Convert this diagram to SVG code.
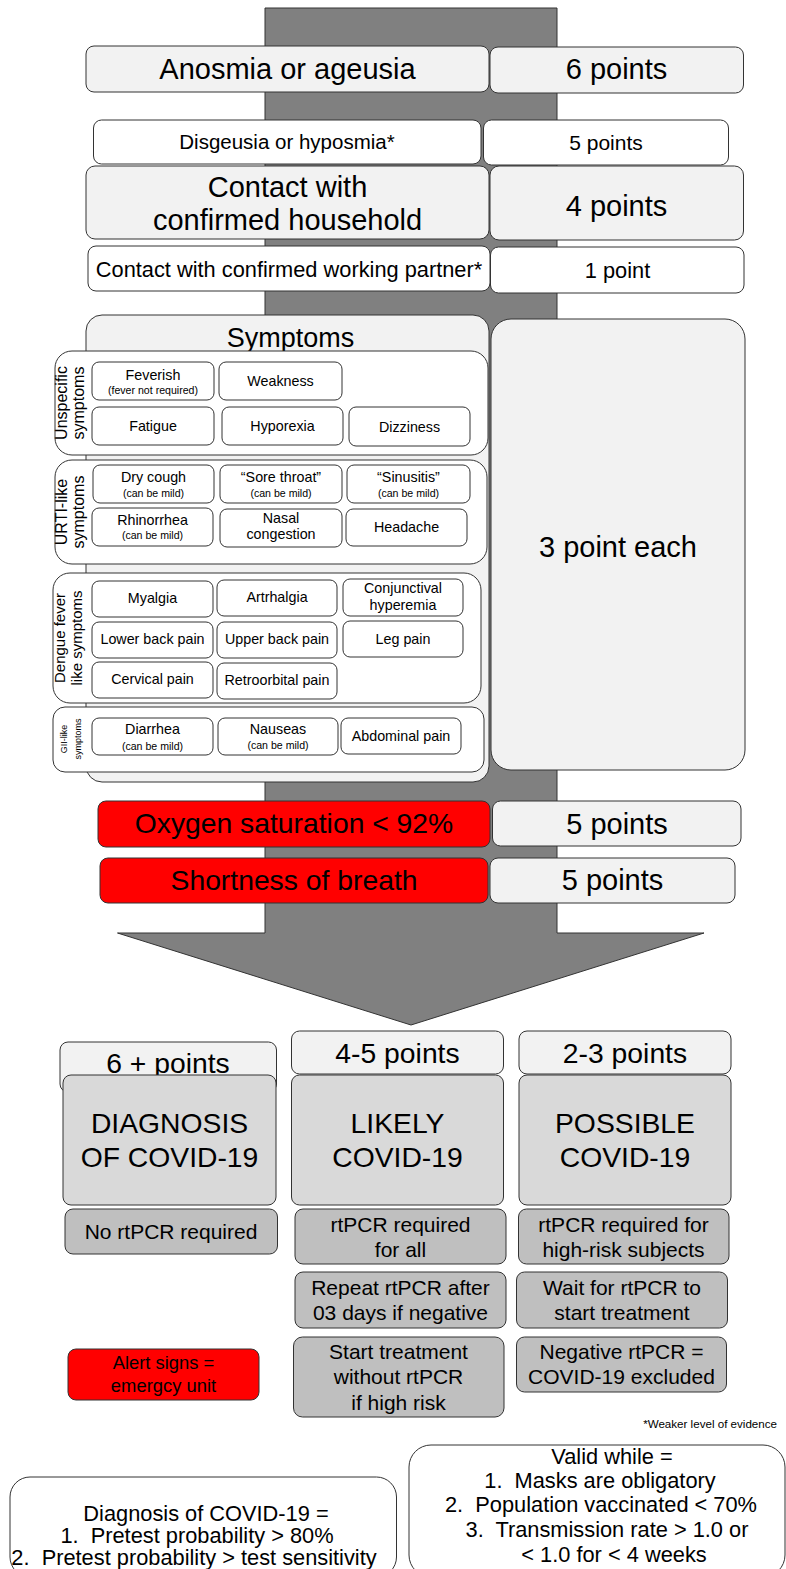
<svg xmlns="http://www.w3.org/2000/svg" width="786" height="1569" viewBox="0 0 786 1569">
<style>
rect{stroke:#333;stroke-width:1}
.lg{fill:#f2f2f2}
.w{fill:#fff}
.red{fill:#ff0000}
.cat{fill:#d9d9d9}
.act{fill:#bfbfbf}
text{font-family:"Liberation Sans",Arial,Helvetica,sans-serif;fill:#000;text-anchor:middle}
.f29{font-size:29px}
.f28{font-size:28.3px}
.f27{font-size:27px}
.f22{font-size:21.8px}
.f21{font-size:21px}
.f20{font-size:20.5px}
.f18{font-size:18.4px}
.f16{font-size:16px}
.f15{font-size:15px}
.f14{font-size:14.3px}
.f10{font-size:10.6px}
.f9{font-size:9px}
.note{font-size:11.6px;text-anchor:end}
</style>
<g id="connectors">
<polygon points="265,8 557,8 557,933 704,933 411,1025 117.5,933 265,933" fill="#808080" stroke="#333" stroke-width="1"/>
</g>
<g id="anosmia"><rect class="lg" x="86" y="46" width="403" height="46" rx="8"/><text class="f29" x="287.5" y="79">Anosmia or ageusia</text></g>
<g id="anosmia-points"><rect class="lg" x="490" y="47" width="253.5" height="46" rx="8"/><text class="f29" x="616.5" y="79">6 points</text></g>
<g id="disgeusia"><rect class="w" x="93.5" y="120" width="387.5" height="44" rx="8"/><text class="f20" x="287" y="148.5">Disgeusia or hyposmia*</text></g>
<g id="disgeusia-points"><rect class="w" x="483.5" y="120" width="245" height="45" rx="8"/><text class="f21" x="606" y="150">5 points</text></g>
<g id="household"><rect class="lg" x="86" y="166" width="403" height="73" rx="9"/><text class="f29" x="287.5" y="197">Contact with</text><text class="f29" x="287.5" y="230">confirmed household</text></g>
<g id="household-points"><rect class="lg" x="490" y="166" width="253.5" height="74" rx="9"/><text class="f29" x="616.5" y="216">4 points</text></g>
<g id="partner"><rect class="w" x="88" y="246" width="402" height="45" rx="8"/><text class="f22" x="289" y="277">Contact with confirmed working partner*</text></g>
<g id="partner-points"><rect class="w" x="490.5" y="247" width="253.5" height="46" rx="8"/><text class="f22" x="617.5" y="278">1 point</text></g>

<g id="symptoms"><rect class="lg" x="86" y="315" width="403" height="467" rx="16"/><text class="f27" x="290.5" y="347">Symptoms</text></g>
<g id="symptoms-points"><rect class="lg" x="491" y="319" width="254" height="451" rx="20"/><text class="f29" x="618" y="557">3 point each</text></g>

<g id="unspecific">
<rect class="w" x="55" y="351" width="433" height="104" rx="17"/>
<text class="f16" transform="translate(67,403) rotate(-90)">Unspecific</text>
<text class="f16" transform="translate(84,403) rotate(-90)">symptoms</text>
</g>
<g id="feverish"><rect class="w" x="92" y="362" width="122" height="38" rx="7"/><text class="f14" x="153" y="380">Feverish</text><text class="f10" x="153" y="394">(fever not required)</text></g>
<g id="weakness"><rect class="w" x="219" y="362" width="123" height="38" rx="7"/><text class="f14" x="280.5" y="386">Weakness</text></g>
<g id="fatigue"><rect class="w" x="92" y="407" width="122" height="38" rx="7"/><text class="f14" x="153" y="431">Fatigue</text></g>
<g id="hyporexia"><rect class="w" x="222" y="407" width="121" height="38" rx="7"/><text class="f14" x="282.5" y="431">Hyporexia</text></g>
<g id="dizziness"><rect class="w" x="349" y="407" width="121" height="39" rx="7"/><text class="f14" x="409.5" y="432">Dizziness</text></g>

<g id="urti">
<rect class="w" x="55" y="460" width="432" height="104" rx="17"/>
<text class="f16" transform="translate(67,512) rotate(-90)">URTI-like</text>
<text class="f16" transform="translate(84,512) rotate(-90)">symptoms</text>
</g>
<g id="drycough"><rect class="w" x="93" y="465" width="121" height="38" rx="7"/><text class="f14" x="153.5" y="482">Dry cough</text><text class="f10" x="153.5" y="497">(can be mild)</text></g>
<g id="sorethroat"><rect class="w" x="220" y="465" width="122" height="38" rx="7"/><text class="f14" x="281" y="482">“Sore throat”</text><text class="f10" x="281" y="497">(can be mild)</text></g>
<g id="sinusitis"><rect class="w" x="347" y="465" width="123" height="38" rx="7"/><text class="f14" x="408.5" y="482">“Sinusitis”</text><text class="f10" x="408.5" y="497">(can be mild)</text></g>
<g id="rhinorrhea"><rect class="w" x="92" y="508" width="121" height="38" rx="7"/><text class="f14" x="152.5" y="525">Rhinorrhea</text><text class="f10" x="152.5" y="539">(can be mild)</text></g>
<g id="nasal"><rect class="w" x="220" y="509" width="122" height="38" rx="7"/><text class="f14" x="281" y="523">Nasal</text><text class="f14" x="281" y="539">congestion</text></g>
<g id="headache"><rect class="w" x="346" y="509" width="121" height="37" rx="7"/><text class="f14" x="406.5" y="532">Headache</text></g>

<g id="dengue">
<rect class="w" x="53" y="573" width="428" height="130" rx="17"/>
<text class="f15" transform="translate(64.5,638) rotate(-90)">Dengue fever</text>
<text class="f15" transform="translate(82,638) rotate(-90)">like symptoms</text>
</g>
<g id="myalgia"><rect class="w" x="92" y="581" width="121" height="36" rx="7"/><text class="f14" x="152.5" y="603">Myalgia</text></g>
<g id="artrhalgia"><rect class="w" x="217" y="580" width="120" height="36" rx="7"/><text class="f14" x="277" y="602">Artrhalgia</text></g>
<g id="conjunctival"><rect class="w" x="343" y="579" width="120" height="37" rx="7"/><text class="f14" x="403" y="593">Conjunctival</text><text class="f14" x="403" y="610">hyperemia</text></g>
<g id="lowerback"><rect class="w" x="92" y="622" width="121" height="36" rx="7"/><text class="f14" x="152.5" y="644">Lower back pain</text></g>
<g id="upperback"><rect class="w" x="217" y="622" width="120" height="36" rx="7"/><text class="f14" x="277" y="644">Upper back pain</text></g>
<g id="legpain"><rect class="w" x="343" y="621" width="120" height="36" rx="7"/><text class="f14" x="403" y="644">Leg pain</text></g>
<g id="cervical"><rect class="w" x="92" y="662" width="121" height="36" rx="7"/><text class="f14" x="152.5" y="684">Cervical pain</text></g>
<g id="retroorbital"><rect class="w" x="217" y="663" width="120" height="36" rx="7"/><text class="f14" x="277" y="685">Retroorbital pain</text></g>

<g id="gi">
<rect class="w" x="53" y="707" width="431" height="65" rx="12"/>
<text class="f9" transform="translate(67,739) rotate(-90)">GII-like</text>
<text class="f9" transform="translate(80.5,739) rotate(-90)">symptoms</text>
</g>
<g id="diarrhea"><rect class="w" x="92" y="718" width="121" height="37" rx="7"/><text class="f14" x="152.5" y="734">Diarrhea</text><text class="f10" x="152.5" y="750">(can be mild)</text></g>
<g id="nauseas"><rect class="w" x="218" y="718" width="120" height="37" rx="7"/><text class="f14" x="278" y="734">Nauseas</text><text class="f10" x="278" y="749">(can be mild)</text></g>
<g id="abdominal"><rect class="w" x="341" y="718" width="120" height="36" rx="7"/><text class="f14" x="401" y="741">Abdominal pain</text></g>

<g id="oxygen"><rect class="red" x="98" y="801" width="392" height="46" rx="8"/><text class="f28" x="294" y="833">Oxygen saturation &lt; 92%</text></g>
<g id="oxygen-points"><rect class="lg" x="492.5" y="801" width="248.5" height="45" rx="8"/><text class="f29" x="617" y="834">5 points</text></g>
<g id="breath"><rect class="red" x="100" y="858" width="388" height="45" rx="8"/><text class="f28" x="294" y="890">Shortness of breath</text></g>
<g id="breath-points"><rect class="lg" x="490" y="858" width="245" height="45" rx="8"/><text class="f29" x="612.5" y="890">5 points</text></g>

<g id="six-points"><rect class="lg" x="60" y="1042" width="216.5" height="50" rx="8"/><text class="f28" x="168" y="1073">6 + points</text></g>
<g id="diagnosis"><rect class="cat" x="63" y="1075" width="213" height="130" rx="8"/><text class="f28" x="169.5" y="1133">DIAGNOSIS</text><text class="f28" x="169.5" y="1167">OF COVID-19</text></g>
<g id="four-five-points"><rect class="lg" x="291.5" y="1031" width="212" height="43" rx="8"/><text class="f28" x="397.5" y="1063">4-5 points</text></g>
<g id="likely"><rect class="cat" x="291.5" y="1075" width="212" height="130" rx="8"/><text class="f28" x="397.5" y="1133">LIKELY</text><text class="f28" x="397.5" y="1167">COVID-19</text></g>
<g id="two-three-points"><rect class="lg" x="519" y="1031" width="212" height="43" rx="8"/><text class="f28" x="625" y="1063">2-3 points</text></g>
<g id="possible"><rect class="cat" x="519" y="1075" width="212" height="130" rx="8"/><text class="f28" x="625" y="1133">POSSIBLE</text><text class="f28" x="625" y="1167">COVID-19</text></g>

<g id="no-rtpcr"><rect class="act" x="65" y="1209" width="212.5" height="45" rx="8"/><text class="f21" x="171" y="1239">No rtPCR required</text></g>
<g id="rtpcr-all"><rect class="act" x="295" y="1209" width="211" height="55" rx="8"/><text class="f21" x="400.5" y="1232">rtPCR required</text><text class="f21" x="400.5" y="1257">for all</text></g>
<g id="rtpcr-highrisk"><rect class="act" x="518.5" y="1209" width="210.5" height="55" rx="8"/><text class="f21" x="623.5" y="1232">rtPCR required for</text><text class="f21" x="623.5" y="1257">high-risk subjects</text></g>
<g id="repeat"><rect class="act" x="295" y="1272" width="211" height="56" rx="8"/><text class="f21" x="400.5" y="1295">Repeat rtPCR after</text><text class="f21" x="400.5" y="1320">03 days if negative</text></g>
<g id="wait"><rect class="act" x="516.5" y="1272" width="211" height="56" rx="8"/><text class="f21" x="622" y="1295">Wait for rtPCR to</text><text class="f21" x="622" y="1320">start treatment</text></g>
<g id="alert"><rect class="red" x="68" y="1349" width="191" height="51" rx="8"/><text class="f18" x="163.5" y="1369">Alert signs =</text><text class="f18" x="163.5" y="1392">emergcy unit</text></g>
<g id="start-treatment"><rect class="act" x="293.5" y="1337" width="210.5" height="80" rx="9"/><text class="f21" x="398.5" y="1359">Start treatment</text><text class="f21" x="398.5" y="1384">without rtPCR</text><text class="f21" x="398.5" y="1410">if high risk</text></g>
<g id="negative"><rect class="act" x="516.5" y="1337" width="210" height="55" rx="8"/><text class="f21" x="621.5" y="1359">Negative rtPCR =</text><text class="f21" x="621.5" y="1384">COVID-19 excluded</text></g>

<g id="note"><text class="note" x="777" y="1428">*Weaker level of evidence</text></g>

<g id="diagnosis-def"><rect class="w" x="10" y="1477" width="386.5" height="100" rx="20"/>
<text class="f22" x="206" y="1521" xml:space="preserve">Diagnosis of COVID-19 =</text>
<text class="f22" x="197" y="1543" xml:space="preserve">1.  Pretest probability &gt; 80%</text>
<text class="f22" x="194" y="1565" xml:space="preserve">2.  Pretest probability &gt; test sensitivity</text>
</g>
<g id="valid-while"><rect class="w" x="409" y="1445" width="376" height="132" rx="22"/>
<text class="f22" x="612" y="1464" xml:space="preserve">Valid while =</text>
<text class="f22" x="600" y="1488" xml:space="preserve">1.  Masks are obligatory</text>
<text class="f22" x="601" y="1512" xml:space="preserve">2.  Population vaccinated &lt; 70%</text>
<text class="f22" x="607" y="1537" xml:space="preserve">3.  Transmission rate &gt; 1.0 or</text>
<text class="f22" x="614" y="1562" xml:space="preserve">&lt; 1.0 for &lt; 4 weeks</text>
</g>
</svg>
